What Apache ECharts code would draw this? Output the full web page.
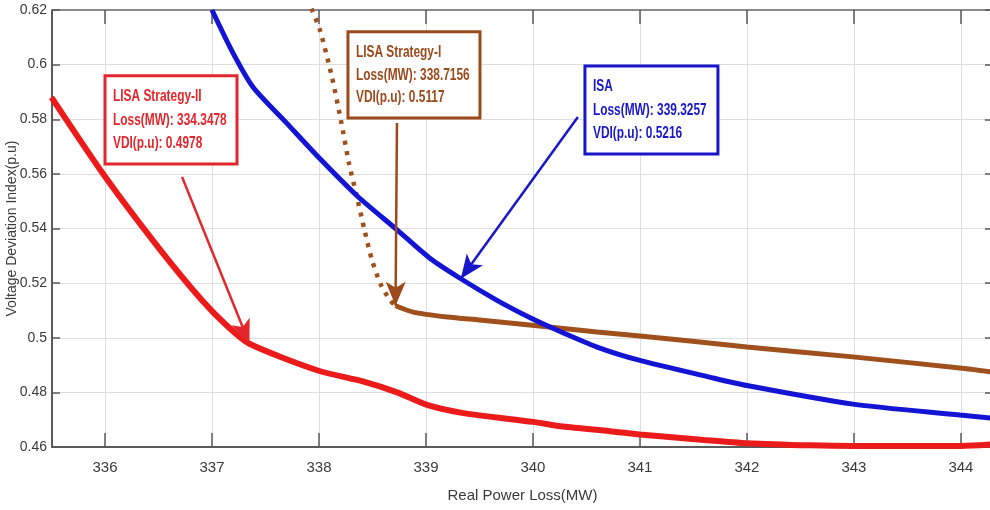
<!DOCTYPE html>
<html>
<head>
<meta charset="utf-8">
<script src="https://cdn.jsdelivr.net/npm/echarts@6/dist/echarts.min.js"></script>
<style>html,body{margin:0;padding:0;background:#fff;}#c{width:990px;height:510px;}</style>
</head>
<body>
<div id="c"></div>
<script>
// ---- data ----
const lossII = [335.5, 336.0, 336.5, 336.9, 337.15, 337.35, 337.99, 338.41, 338.73, 339.01, 339.35, 340.0, 340.28, 340.72, 341.0, 341.6, 342.0, 342.6, 343.0, 344.0, 344.3];
const vdiII  = [0.588, 0.559, 0.533, 0.514, 0.504, 0.4978, 0.488, 0.484, 0.480, 0.4754, 0.4724, 0.4692, 0.4675, 0.4658, 0.4646, 0.4626, 0.4614, 0.4606, 0.4604, 0.4604, 0.461];

const lossISA = [337.0, 337.196, 337.383, 337.70, 338.01, 338.355, 338.73, 339.04, 339.3257, 339.66, 339.97, 340.19, 340.60, 341.0, 341.65, 342.0, 342.99, 343.99, 344.3];
const vdiISA  = [0.620, 0.6043, 0.5918, 0.5785, 0.5655, 0.552, 0.5395, 0.529, 0.5216, 0.5138, 0.5074, 0.5034, 0.4966, 0.4917, 0.4856, 0.4825, 0.4757, 0.4717, 0.4705];

const lossIdot = [337.93, 338.009, 338.121, 338.206, 338.28, 338.355, 338.43, 338.495, 338.58, 338.664, 338.7156];
const vdiIdot  = [0.6205, 0.6127, 0.5955, 0.5794, 0.5640, 0.5515, 0.5387, 0.5285, 0.5193, 0.5138, 0.5117];

const lossI = [338.7156, 338.88, 339.20, 339.50, 339.97, 340.60, 341.0, 341.47, 342.0, 342.99, 343.99, 344.3];
const vdiI  = [0.5117, 0.5094, 0.5076, 0.5065, 0.5047, 0.5021, 0.5006, 0.4988, 0.4966, 0.4930, 0.4889, 0.4874];

const xAxisName = 'Real Power Loss(MW)';
const yAxisName = 'Voltage Deviation Index(p.u)';

// annotation boxes (data coordinates) and arrows
const notes = [
  {lines:['LISA Strategy-II','Loss(MW): 334.3478','VDI(p.u): 0.4978'], color:'#e3262b',
   box:[336.0, 0.5959, 337.234, 0.5636], arrow:[336.72, 0.5589, 337.35, 0.4978]},
  {lines:['LISA Strategy-I','Loss(MW): 338.7156','VDI(p.u): 0.5117'], color:'#9c4a1c',
   box:[338.271, 0.6120, 339.505, 0.5805], arrow:[338.729, 0.5786, 338.7156, 0.5117]},
  {lines:['ISA','Loss(MW): 339.3257','VDI(p.u): 0.5216'], color:'#1717c9',
   box:[340.486, 0.5995, 341.729, 0.5673], arrow:[340.42, 0.5808, 339.3257, 0.5216]}
];

const zip = (a, b) => a.map((v, i) => [v, b[i]]);
const FONT = '"Liberation Sans", Arial, sans-serif';
const gridLine = '#dedede';
const axisCol = '#5a5a5a';

const chart = echarts.init(document.getElementById('c'), null, {renderer:'canvas'});

function arrowLine(n) {
  return {
    silent: true, animation: false,
    symbol: ['none', 'arrow'], symbolSize: [15, 24],
    lineStyle: {color: n.color, width: 2.5, type: 'solid'},
    label: {show: false},
    data: [[{coord: [n.arrow[0], n.arrow[1]]}, {coord: [n.arrow[2], n.arrow[3]]}]]
  };
}

const option = {
  animation: false,
  backgroundColor: '#fff',
  grid: [
    {left: -2, right: -3, top: 10, bottom: 63, outerBoundsMode: 'none', containLabel: false},
    {left: 52, right: -3, top: 10, bottom: 63, outerBoundsMode: 'none', containLabel: false}
  ],
  xAxis: [
    {type: 'value', gridIndex: 0, position: 'bottom', min: 335, max: 344.3, interval: 1,
     axisLine: {show: false},
     axisTick: {show: true, inside: true, length: 14, lineStyle: {color: axisCol, width: 1.5}},
     axisLabel: {show: true, margin: 13, fontSize: 15, color: '#3a3a3a', fontFamily: FONT,
       formatter: v => (Math.abs(v - Math.round(v)) < 1e-6 && v > 335) ? String(Math.round(v)) : ''},
     splitLine: {show: true, lineStyle: {color: gridLine, width: 1}}},
    {type: 'value', gridIndex: 0, position: 'top', min: 335, max: 344.3, interval: 1,
     axisLine: {show: false},
     axisTick: {show: true, inside: true, length: 14, lineStyle: {color: axisCol, width: 1.5}},
     axisLabel: {show: false}, splitLine: {show: false}},
    {type: 'value', gridIndex: 1, position: 'bottom', min: 335.5, max: 344.3,
     axisLine: {show: true, onZero: false, lineStyle: {color: axisCol, width: 2}},
     axisTick: {show: false}, axisLabel: {show: false}, splitLine: {show: false},
     name: xAxisName, nameLocation: 'middle', nameGap: 41, nameMoveOverlap: false,
     nameTextStyle: {fontSize: 15, color: '#3a3a3a', fontFamily: FONT}},
    {type: 'value', gridIndex: 1, position: 'top', min: 335.5, max: 344.3,
     axisLine: {show: true, onZero: false, lineStyle: {color: '#8a8a8a', width: 2}},
     axisTick: {show: false}, axisLabel: {show: false}, splitLine: {show: false}}
  ],
  yAxis: [
    {type: 'value', gridIndex: 0, min: 0.46, max: 0.62, interval: 0.02, show: false,
     splitLine: {show: false}},
    {type: 'value', gridIndex: 1, position: 'left', min: 0.46, max: 0.62, interval: 0.02,
     axisLine: {show: true, onZero: false, lineStyle: {color: axisCol, width: 2}},
     axisTick: {show: true, inside: true, length: 8, lineStyle: {color: axisCol, width: 1.5}},
     axisLabel: {show: true, margin: 5, fontSize: 14, color: '#3a3a3a', fontFamily: FONT,
       formatter: v => String(+v.toFixed(2))},
     splitLine: {show: true, lineStyle: {color: gridLine, width: 1}},
     name: yAxisName, nameLocation: 'middle', nameGap: 40, nameRotate: 90, nameMoveOverlap: false,
     nameTextStyle: {fontSize: 14, color: '#3a3a3a', fontFamily: FONT, verticalAlign: 'middle'}},
    {type: 'value', gridIndex: 1, position: 'right', min: 0.46, max: 0.62, interval: 0.02,
     axisLine: {show: true, onZero: false, lineStyle: {color: axisCol, width: 2}},
     axisTick: {show: true, inside: true, length: 8, lineStyle: {color: axisCol, width: 1.5}},
     axisLabel: {show: false}, splitLine: {show: false}}
  ],
  series: [
    {name: 'LISA Strategy-I (dotted)', type: 'line', xAxisIndex: 0, yAxisIndex: 0,
     data: zip(lossIdot, vdiIdot), smooth: 0.25, showSymbol: false, z: 3,
     lineStyle: {color: '#a0501c', width: 4.5, type: [4, 6.5], cap: 'butt'}},
    {name: 'LISA Strategy-I', type: 'line', xAxisIndex: 0, yAxisIndex: 0,
     data: zip(lossI, vdiI), smooth: 0.25, showSymbol: false, z: 3,
     lineStyle: {color: '#a0501c', width: 5}, markLine: arrowLine(notes[1])},
    {name: 'ISA', type: 'line', xAxisIndex: 0, yAxisIndex: 0,
     data: zip(lossISA, vdiISA), smooth: 0.25, showSymbol: false, z: 4,
     lineStyle: {color: '#1414d4', width: 5}, markLine: arrowLine(notes[2])},
    {name: 'LISA Strategy-II', type: 'line', xAxisIndex: 0, yAxisIndex: 0,
     data: zip(lossII, vdiII), smooth: 0.25, showSymbol: false, z: 4,
     lineStyle: {color: '#ec1b1b', width: 6}, markLine: arrowLine(notes[0])}
  ]
};
chart.setOption(option);

function buildNotes() {
  const graphics = [];
  notes.forEach(n => {
    const p1 = chart.convertToPixel({xAxisIndex: 0, yAxisIndex: 0}, [n.box[0], n.box[1]]);
    const p2 = chart.convertToPixel({xAxisIndex: 0, yAxisIndex: 0}, [n.box[2], n.box[3]]);
    const h = p2[1] - p1[1];
    const children = [{
      type: 'rect', shape: {x: p1[0], y: p1[1], width: p2[0] - p1[0], height: h},
      style: {fill: '#fff', stroke: n.color, lineWidth: 3}
    }];
    n.lines.forEach((t, i) => {
      children.push({
        type: 'text', x: p1[0] + 8, y: p1[1] + h * (0.235 + i * 0.265), scaleX: 0.7,
        style: {text: t, x: 0, y: 0, fill: n.color, font: 'bold 17px "Liberation Sans", Arial, sans-serif',
                verticalAlign: 'middle', align: 'left'}
      });
    });
    graphics.push({type: 'group', z: 50, children});
  });
  chart.setOption({graphic: graphics});
}
buildNotes();
</script>
</body>
</html>
